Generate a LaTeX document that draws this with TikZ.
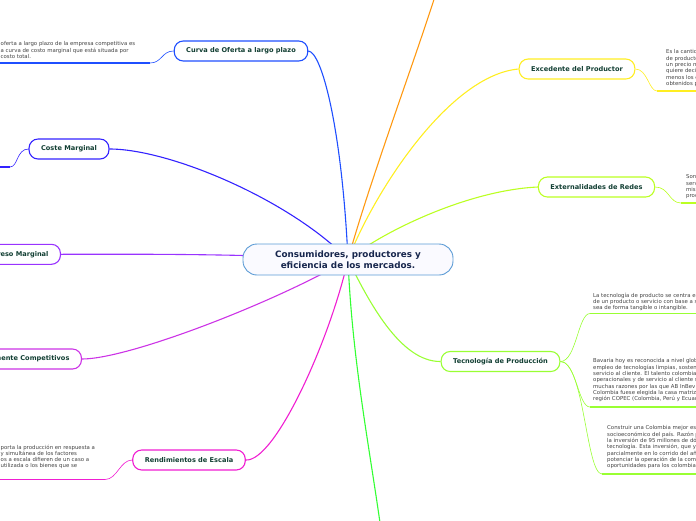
\documentclass[tikz,border=0pt]{standalone}
\usepackage{fontspec}
\setmainfont{DejaVu Sans}
\usetikzlibrary{backgrounds}

\definecolor{cOfert}{HTML}{1F4FFF}
\definecolor{cCoste}{HTML}{3322FF}
\definecolor{cIngr}{HTML}{9933FF}
\definecolor{cComp}{HTML}{CC33E6}
\definecolor{cRend}{HTML}{F01ED2}
\definecolor{cOrng}{HTML}{FF9912}
\definecolor{cExce}{HTML}{FFEE22}
\definecolor{cExte}{HTML}{BBFF22}
\definecolor{cTecn}{HTML}{99FF33}
\definecolor{cVerd}{HTML}{33FF33}
\definecolor{tHead}{HTML}{123F33}
\definecolor{tMain}{HTML}{17264D}
\definecolor{bMain}{HTML}{5B9BD5}
\definecolor{tBody}{HTML}{444444}

\begin{document}
\begin{tikzpicture}[
  x=1pt, y=-1pt,
  hub/.style={draw=bMain, line width=0.9pt, rounded corners=14pt, fill=blue!2,
              text=tMain, font=\fontsize{8.8}{10.5}\selectfont\bfseries,
              align=center, minimum width=210pt, minimum height=31pt},
  topic/.style={draw=#1, line width=1.1pt, rounded corners=9pt, fill=white,
                text=tHead, font=\fontsize{6.6}{8}\selectfont\bfseries,
                minimum height=20pt, inner sep=0pt, inner xsep=12pt},
  note/.style={text=tBody, font=\fontsize{5.4}{6.3}\selectfont, align=left,
               inner sep=0pt, anchor=north west},
  branch/.style={draw=#1, line width=1.1pt},
  twig/.style={draw=#1, line width=0.6pt},
  rule/.style={draw=#1, line width=1.4pt}
]
  \useasboundingbox (0,0) rectangle (696,520);

  % centre and topics
  \node[hub] (hub) at (348,259.5) {Consumidores, productores y\\eficiencia de los mercados.};
  \node[topic=cOfert] (curva) at (241,51) {Curva de Oferta a largo plazo};
  \node[topic=cCoste] (coste) at (69,149) {Coste Marginal};
  \node[topic=cIngr, anchor=east] (ingreso) at (61,254.3) {Ingreso Marginal};
  \node[topic=cComp, anchor=east] (compet) at (82,359) {Mercados Perfectamente Competitivos};
  \node[topic=cRend] (rend) at (189,460) {Rendimientos de Escala};
  \node[topic=cExce] (exce) at (577,69) {Excedente del Productor};
  \node[topic=cExte] (exte) at (596.5,187) {Externalidades de Redes};
  \node[topic=cTecn] (tecn) at (500.5,361.5) {Tecnología de Producción};

  \coordinate (orng) at (437,-10);
  \coordinate (verd) at (381,530);

  % notes
  \node[note] (nCurva) at (0.5,41.5) {oferta a largo plazo de la empresa competitiva es\\
    a curva de costo marginal que está situada por\\costo total.};
  \node[note] (nRend) at (0.5,444.5) {porta la producción en respuesta a\\
    y simultánea de los factores\\os a escala difieren de un caso a\\
    utilizada o los bienes que se};
  \node[note] (nExce) at (666,49.5) {Es la cantidad que reciben los productores\\
    de productos por encima del mínimo, o sea,\\
    un precio mayor al que estaban dispuestos;\\
    quiere decir que es lo que gana el productor\\
    menos los costos marginales, o beneficios\\
    obtenidos por los productores.};
  \node[note] (nExte) at (686,174.5) {Son bienes o\\servicios que\\mismo\\productos};
  \node[note] (nTecA) at (593,292.5) {La tecnología de producto se centra en el diseño\\
    de un producto o servicio con base a su uso, ya\\
    sea de forma tangible o intangible.};
  \node[note] (nTecB) at (593,358.5) {Bavaria hoy es reconocida a nivel global por el\\
    empleo de tecnologías limpias, sostenibilidad y\\
    servicio al cliente. El talento colombiano y\\
    operacionales y de servicio al cliente son\\
    muchas razones por las que AB InBev decidió que\\
    Colombia fuese elegida la casa matriz de la\\
    región COPEC (Colombia, Perú y Ecuador).};
  \node[note] (nTecC) at (607,425.5) {Construir una Colombia mejor es\\
    socioeconómico del país. Razón por\\
    la inversión de 95 millones de dólares\\
    tecnología. Esta inversión, que ya\\
    parcialmente en lo corrido del año\\
    potenciar la operación de la compañía\\
    oportunidades para los colombianos.};

  % main branches
  \begin{scope}[on background layer]
    \draw[branch=cOrng] (hub.center) .. controls (370,180) and (415,60) .. (orng);
    \draw[branch=cExce] (hub.center) .. controls (375,190) and (450,75) .. (exce.west);
    \draw[branch=cExte] (hub.center) .. controls (385,230) and (470,190) .. (exte.west);
    \draw[branch=cTecn] (hub.center) .. controls (368,300) and (400,362) .. (tecn.west);
    \draw[branch=cVerd] (hub.center) .. controls (352,360) and (370,450) .. (verd);
    \draw[branch=cRend] (hub.center) .. controls (330,340) and (275,462) .. (rend.east);
    \draw[branch=cComp] (hub.center) .. controls (280,300) and (130,359) .. (compet.east);
    \draw[branch=cIngr] (hub.center) .. controls (250,254) and (150,254) .. (ingreso.east);
    \draw[branch=cCoste] (hub.center) .. controls (290,200) and (170,149) .. (coste.east);
    \draw[branch=cOfert] (hub.center) .. controls (342,130) and (322,52) .. (curva.east);
  \end{scope}

  % twigs to the notes
  \coordinate (curvaA) at (150,63);  \coordinate (curvaB) at (-2,63);
  \coordinate (costeA) at (10,167);  \coordinate (costeB) at (-2,167);
  \coordinate (rendA) at (105,479.5); \coordinate (rendB) at (-2,479.5);
  \coordinate (exceA) at (657,91);   \coordinate (exceB) at (698,91);
  \coordinate (exteA) at (681,203);  \coordinate (exteB) at (698,203);
  \coordinate (tecA) at (590,313.5); \coordinate (tecAB) at (698,313.5);
  \coordinate (tecB) at (590,407);   \coordinate (tecBB) at (698,407);
  \coordinate (tecC) at (602,474);   \coordinate (tecCB) at (698,474);

  \draw[twig=cOfert] (curva.west) .. controls +(-12,0) and +(12,0) .. (curvaA);
  \draw[rule=cOfert] (curvaA) -- (curvaB);
  \draw[twig=cCoste] (coste.west) .. controls +(-12,0) and +(8,0) .. (costeA);
  \draw[rule=cCoste] (costeA) -- (costeB);
  \draw[twig=cRend] (rend.west) .. controls +(-12,0) and +(12,0) .. (rendA);
  \draw[rule=cRend] (rendA) -- (rendB);
  \draw[twig=cExce] (exce.east) .. controls +(12,0) and +(-8,0) .. (exceA);
  \draw[rule=cExce] (exceA) -- (exceB);
  \draw[twig=cExte] (exte.east) .. controls +(14,0) and +(-12,0) .. (exteA);
  \draw[rule=cExte] (exteA) -- (exteB);
  \draw[twig=cTecn] (tecn.east) .. controls +(16,0) and +(-12,0) .. (tecA);
  \draw[rule=cTecn] (tecA) -- (tecAB);
  \draw[twig=cTecn] (tecn.east) .. controls +(16,0) and +(-12,0) .. (tecB);
  \draw[rule=cTecn] (tecB) -- (tecBB);
  \draw[twig=cTecn] (tecn.east) .. controls +(24,0) and +(-16,0) .. (tecC);
  \draw[rule=cTecn] (tecC) -- (tecCB);
\end{tikzpicture}
\end{document}
